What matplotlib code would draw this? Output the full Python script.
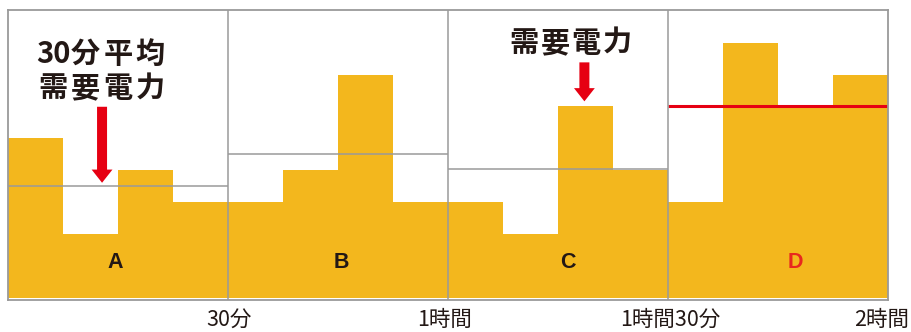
import matplotlib
matplotlib.use("Agg")
import matplotlib.pyplot as plt

plt.rcParams['font.family'] = ['Noto Sans CJK JP', 'DejaVu Sans']

# ---- data ----
panels = ["A", "B", "C", "D"]
demand_A = [5, 2, 4, 3]
demand_B = [3, 4, 7, 3]
demand_C = [3, 2, 6, 4]
demand_D = [3, 8, 6, 7]
avg_demand = [3.5, 4.5, 4.05, 6.0]
tick_labels = ["30分", "1時間", "1時間30分", "2時間"]
title_A_line1 = ["30", "分", "平", "均"]
title_A_line2 = ["需", "要", "電", "力"]
title_C = ["需", "要", "電", "力"]

series = [demand_A, demand_B, demand_C, demand_D]

# ---- style / layout ----
BAR = "#F3B71D"
GRAY = "#9a9a9a"
RED = "#E60012"
LABEL_RED = "#E8281E"
INK = "#231815"

fig = plt.figure(figsize=(9.12, 3.32), dpi=100)
ax = fig.add_axes([8/912, (332-300.3)/332, 880/912, 290.3/332])

n_per = len(demand_A)
for p, vals in enumerate(series):
    xs = [p*n_per + i for i in range(n_per)]
    ax.bar(xs, vals, width=1.0, align='edge', color=BAR, linewidth=0, zorder=1)
    color = RED if p == 3 else GRAY
    lw = 2.2 if p == 3 else 1.1
    ax.hlines(avg_demand[p], p*n_per, (p+1)*n_per, color=color, lw=lw, zorder=3)

for p in range(1, len(panels)):
    ax.axvline(p*n_per, color=GRAY, lw=1.1, zorder=3)

ax.set_xlim(0, n_per*len(panels))
ax.set_ylim(-0.07, 9.02)
for s in ax.spines.values():
    s.set_color(GRAY)
    s.set_linewidth(1.3)
    s.set_zorder(4)
ax.set_yticks([])
ax.set_xticks([])

# panel labels
label_x = [1.95, 6.07, 10.18, 14.32]
for i, name in enumerate(panels):
    ax.text(label_x[i], 1.10, name, ha='center', va='center', fontsize=15.5,
            fontweight='bold', family=['Liberation Sans', 'DejaVu Sans'],
            color=LABEL_RED if name == "D" else INK, zorder=5)

# x labels
xlab_x = [4.02, 7.93, 12.04, 15.89]
for x, t in zip(xlab_x, tick_labels):
    ax.text(x, -0.07 - 8.5/31.9, t, ha='center', va='top',
            fontsize=15.5, color=INK)

# annotation texts (letter-spaced, one glyph at a time)
char_x_A = [0.817, 1.408, 1.999, 2.590]
char_x_C = [9.375, 9.944, 10.511, 11.080]
for x, ch in zip(char_x_A, title_A_line1):
    ax.text(x, 7.64, ch, ha='center', va='center', fontsize=21,
            fontweight='bold', color=INK, zorder=5)
for x, ch in zip(char_x_A, title_A_line2):
    ax.text(x, 6.57, ch, ha='center', va='center', fontsize=21,
            fontweight='bold', color=INK, zorder=5)
for x, ch in zip(char_x_C, title_C):
    ax.text(x, 7.99, ch, ha='center', va='center', fontsize=21,
            fontweight='bold', color=INK, zorder=5)

arrow_kw = dict(facecolor=RED, edgecolor='none', width=7.2, headwidth=15,
                headlength=9.5, shrink=0)
ax.annotate('', xy=(1.71, 3.61), xytext=(1.71, 5.99), arrowprops=arrow_kw, zorder=5)
ax.annotate('', xy=(10.48, 6.16), xytext=(10.48, 7.38), arrowprops=arrow_kw, zorder=5)

fig.savefig("out.png", dpi=100)
